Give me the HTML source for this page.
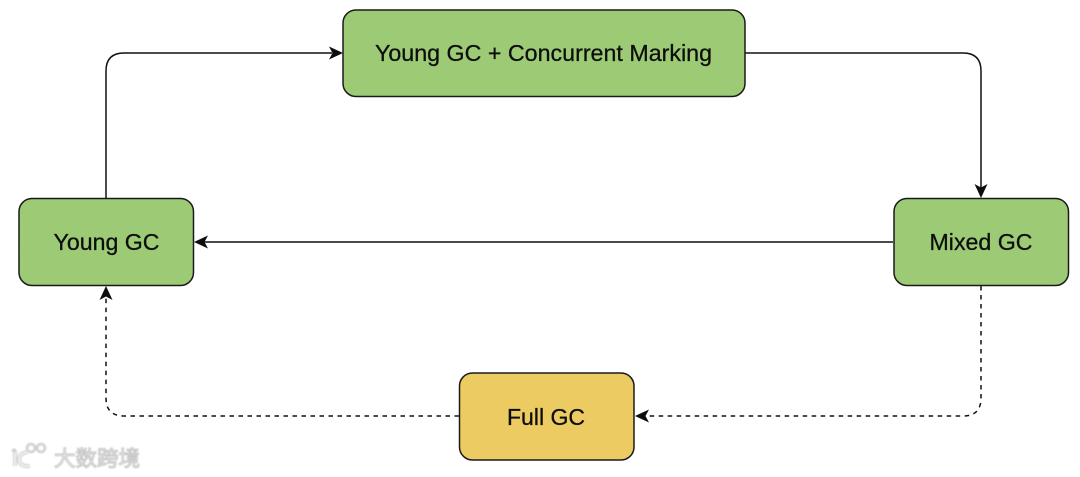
<!DOCTYPE html>
<html>
<head>
<meta charset="utf-8">
<style>
html,body{margin:0;padding:0;background:#fff;width:1080px;height:477px;overflow:hidden}
svg{display:block}
text{font-family:"Liberation Sans",sans-serif;fill:#0a0a0a}
</style>
</head>
<body>
<svg width="1080" height="477" viewBox="0 0 1080 477" xmlns="http://www.w3.org/2000/svg">
<defs>
<filter id="b"><feGaussianBlur stdDeviation="0.3"/></filter>
<filter id="w"><feGaussianBlur stdDeviation="0.7"/></filter>
</defs>
<g fill="none" stroke="#111" stroke-width="1.5">
<path d="M106 198V71Q106 53 124 53H332"/>
<path d="M745 53H963Q981 53 981 71V188"/>
<path d="M893 242H204"/>
<path d="M981 286V398Q981 416 963 416H645" stroke-dasharray="4.500 4.500"/>
<path d="M459 416H124Q106 416 106 398V297" stroke-dasharray="4.500 4.500"/>
</g>
<g fill="#0d0d0d">
<path d="M343 53L329 46.500L332.500 53L329 59.500Z"/>
<path d="M981 198L974.500 184L981 187.500L987.500 184Z"/>
<path d="M194 242L208 235.500L204.500 242L208 248.500Z"/>
<path d="M635 416L649 409.500L645.500 416L649 422.500Z"/>
<path d="M106 286L99.500 300L106 296.500L112.500 300Z"/>
</g>
<g stroke="#1a1a1a" stroke-width="1.5">
<rect x="343" y="10" width="402" height="86.500" rx="13" fill="#9cca75"/>
<rect x="19" y="198.500" width="174.500" height="87" rx="13" fill="#9cca75"/>
<rect x="894" y="198.500" width="174.500" height="87" rx="13" fill="#9cca75"/>
<rect x="459.500" y="373" width="174.500" height="87" rx="13" fill="#eccb63"/>
</g>
<g font-size="23" text-anchor="middle" filter="url(#b)" style="stroke:#0a0a0a;stroke-width:.25">
<text x="543.500" y="61" textLength="337" lengthAdjust="spacingAndGlyphs">Young GC + Concurrent Marking</text>
<text x="106.500" y="250" textLength="106" lengthAdjust="spacingAndGlyphs">Young GC</text>
<text x="981" y="250" textLength="103" lengthAdjust="spacingAndGlyphs">Mixed GC</text>
<text x="546" y="425" textLength="78" lengthAdjust="spacingAndGlyphs">Full GC</text>
</g>
<g filter="url(#w)">
<g fill="none" stroke="#cfcfcf" stroke-width="4">
<path d="M13 449L15 452V466"/>
<path d="M28 452Q19 453 19 460Q20 467 30 466"/>
<circle cx="31" cy="448" r="4" stroke-width="2.500"/>
<circle cx="41" cy="448" r="4" stroke-width="2.500"/>
</g>
<g fill="none" stroke="#f7f7f7" stroke-width="1.500">
<path d="M15 452V466"/>
<path d="M28 452Q19 453 19 460Q20 467 30 466"/>
</g>
<text x="54" y="466" font-size="21.500" style='font-family:"Liberation Sans","Noto Sans CJK SC",sans-serif;fill:#f2f2f2;stroke:#bdbdbd;stroke-width:.9' textLength="86">大数跨境</text>
</g>
</svg>
</body>
</html>
